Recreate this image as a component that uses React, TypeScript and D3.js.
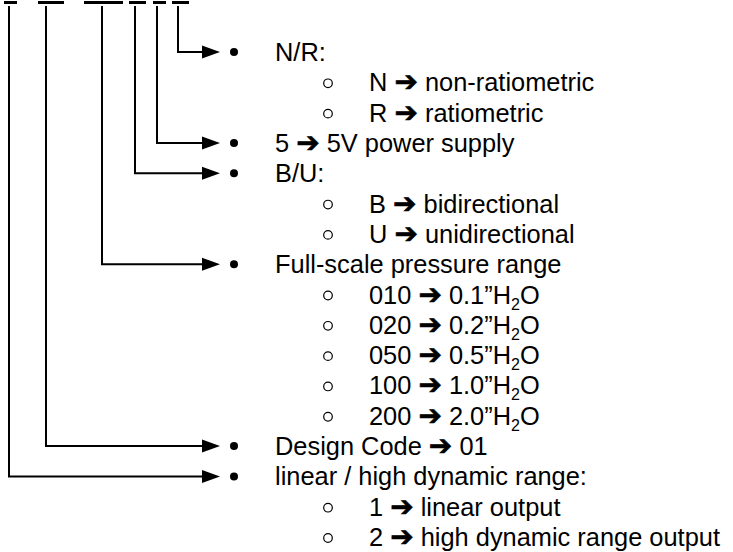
import * as d3 from 'd3';
import React from 'react';

// part-number code breakdown: one row per line of the list
const rowLabels = [
  'N/R:',
  'N ➔ non-ratiometric',
  'R ➔ ratiometric',
  '5 ➔ 5V power supply',
  'B/U:',
  'B ➔ bidirectional',
  'U ➔ unidirectional',
  'Full-scale pressure range',
  '010 ➔ 0.1”H_2O',
  '020 ➔ 0.2”H_2O',
  '050 ➔ 0.5”H_2O',
  '100 ➔ 1.0”H_2O',
  '200 ➔ 2.0”H_2O',
  'Design Code ➔ 01',
  'linear / high dynamic range:',
  '1 ➔ linear output',
  '2 ➔ high dynamic range output',
];
const rowLevels = [0, 1, 1, 0, 0, 1, 1, 0, 1, 1, 1, 1, 1, 0, 0, 1, 1];

// code segments left to right, and the row each one points to
const segStart = [4, 38, 84, 129, 153, 172];
const segEnd = [17, 64, 123, 146, 166, 189];
const segLeader = [9, 46, 102, 135, 157, 178];
const segTarget = [14, 13, 7, 4, 3, 0];

const W = 733, H = 552;
const FONT = '"Liberation Sans", Arial, sans-serif';

function Label({ text, x, y }: { text: string; x: number; y: number }) {
  // split on the arrow and the subscript marker
  const parts = text.split(/(➔|_2)/).filter(p => p !== '');
  return (
    <text x={x} y={y} fontFamily={FONT} fontSize={25.4} fill="#000">
      {parts.map((p, i) => {
        if (p === '➔')
          return (
            <tspan key={i} fontFamily='"DejaVu Sans"' fontWeight="bold" fontSize={28} stroke="#000" strokeWidth={0.6}>
              {p}
            </tspan>
          );
        if (p === '_2') return <tspan key={i} fontSize={16} dy={6}>2</tspan>;
        const prev = parts[i - 1];
        return <tspan key={i} dy={prev === '_2' ? -6 : 0}>{p}</tspan>;
      })}
    </text>
  );
}

export default function App() {
  const y = d3.scaleLinear().domain([0, rowLabels.length - 1]).range([52, 537]);
  const tipX = 220, headLen = 18, headHalf = 6.5;
  const bulletX = 234, textX = 275, circleX = 328, subTextX = 369;

  return (
    <svg width={W} height={H} style={{ position: 'absolute', left: 0, top: 0, background: '#fff' }}>
      {/* the code placeholders along the top */}
      {segStart.map((s, i) => (
        <rect key={'seg' + i} x={s} y={1} width={segEnd[i] - s} height={3} fill="#000" />
      ))}
      {/* leaders from each placeholder down to its row */}
      {segLeader.map((lx, i) => {
        const ty = y(segTarget[i]);
        const path = d3.path();
        path.moveTo(lx, 6);
        path.lineTo(lx, ty);
        path.lineTo(tipX - headLen, ty);
        return (
          <g key={'lead' + i}>
            <path d={path.toString()} fill="none" stroke="#000" strokeWidth={2} />
            <polygon
              points={`${tipX - headLen},${ty - headHalf} ${tipX},${ty} ${tipX - headLen},${ty + headHalf}`}
              fill="#000"
            />
          </g>
        );
      })}
      {rowLabels.map((lab, i) => {
        const cy = y(i);
        const base = cy + 9;
        if (rowLevels[i] === 0) {
          return (
            <g key={'row' + i}>
              <circle cx={bulletX} cy={cy} r={4} fill="#000" />
              <Label text={lab} x={textX} y={base} />
            </g>
          );
        }
        return (
          <g key={'row' + i}>
            <circle cx={circleX} cy={cy + 1} r={4.3} fill="none" stroke="#000" strokeWidth={1.2} />
            <Label text={lab} x={subTextX} y={base} />
          </g>
        );
      })}
    </svg>
  );
}
